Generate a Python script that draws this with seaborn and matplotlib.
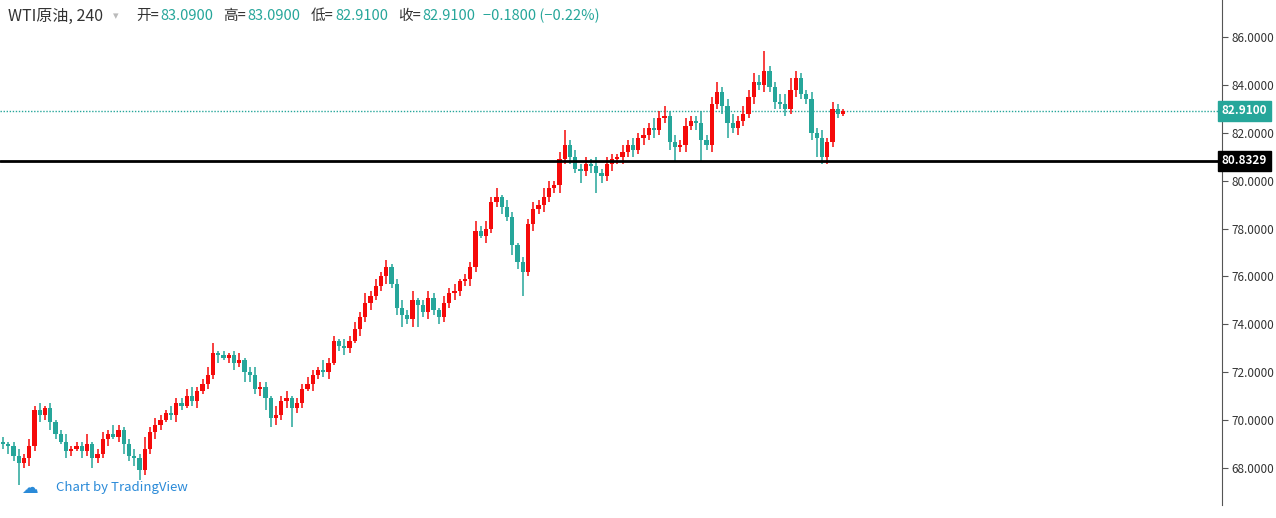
import numpy as np
import matplotlib
matplotlib.use("Agg")
import matplotlib.pyplot as plt
import seaborn as sns

closes = [69.0,68.9,68.5,68.2,68.4,68.9,70.4,70.2,70.5,69.9,
          69.4,69.1,68.7,68.8,68.9,68.7,69.0,68.4,68.6,69.2,
          69.4,69.3,69.6,69.0,68.5,68.4,67.9,68.8,69.5,69.8,
          70.0,70.3,70.2,70.7,70.6,71.0,70.8,71.2,71.5,71.9,
          72.8,72.7,72.6,72.7,72.4,72.5,72.0,71.9,71.3,71.4,
          70.9,70.1,70.2,70.8,70.9,70.5,70.7,71.3,71.5,71.9,
          72.1,72.0,72.4,73.3,73.1,73.0,73.3,73.8,74.3,74.9,
          75.2,75.6,76.0,76.4,75.7,74.7,74.4,74.2,75.0,74.8,
          74.5,75.1,74.6,74.3,74.9,75.3,75.4,75.8,75.9,76.4,
          77.9,77.7,78.0,79.1,79.3,78.9,78.5,77.3,76.6,76.2,
          78.2,78.8,79.0,79.3,79.7,79.8,80.9,81.5,81.0,80.5,
          80.4,80.7,80.6,80.3,80.2,80.7,80.9,81.0,81.2,81.5,
          81.3,81.8,81.9,82.2,82.1,82.6,82.7,81.6,81.4,81.5,
          82.3,82.5,82.4,81.7,81.5,83.2,83.7,83.1,82.4,82.2,
          82.5,82.8,83.5,84.1,84.0,84.6,83.9,83.3,83.2,83.0,
          83.8,84.3,83.6,83.4,82.0,81.8,81.0,81.6,83.0,82.8,82.91]
first_open = 69.1
wick_up = [0.2,0.1,0.2,0.3,0.2,0.3,0.2,0.3,0.1,0.2,
           0.1,0.2,0.3,0.1,0.2,0.2,0.4,0.1,0.2,0.3,
           0.2,0.4,0.2,0.1,0.2,0.3,0.2,0.5,0.2,0.3,
           0.2,0.1,0.3,0.2,0.2,0.3,0.4,0.2,0.2,0.3,
           0.4,0.1,0.2,0.1,0.2,0.3,0.1,0.2,0.3,0.2,
           0.2,0.1,0.4,0.2,0.3,0.1,0.2,0.2,0.3,0.2,
           0.1,0.4,0.2,0.2,0.1,0.3,0.2,0.3,0.2,0.4,
           0.2,0.3,0.2,0.3,0.1,0.2,0.3,0.2,0.4,0.1,
           0.2,0.3,0.2,0.1,0.3,0.2,0.3,0.1,0.2,0.2,
           0.4,0.2,0.3,0.2,0.4,0.1,0.3,0.2,0.1,0.2,
           0.2,0.3,0.2,0.4,0.3,0.2,0.3,0.6,0.2,0.3,
           0.2,0.3,0.2,0.4,0.2,0.3,0.2,0.1,0.3,0.2,
           0.3,0.2,0.3,0.2,0.4,0.3,0.4,0.2,0.3,0.2,
           0.3,0.2,0.2,0.5,0.2,0.3,0.4,0.2,0.3,0.4,
           0.2,0.3,0.3,0.4,0.3,0.8,0.2,0.2,0.3,0.4,
           0.5,0.3,0.2,0.2,0.3,0.2,0.3,0.2,0.3,0.2,0.1]
wick_dn = [0.2,0.3,0.2,0.9,0.2,0.3,0.2,0.3,0.2,0.3,
           0.2,0.1,0.3,0.2,0.1,0.3,0.2,0.4,0.2,0.2,
           0.3,0.1,0.2,0.4,0.2,0.3,0.4,0.2,0.2,0.3,
           0.2,0.1,0.2,0.3,0.2,0.1,0.2,0.3,0.1,0.2,
           0.2,0.3,0.1,0.2,0.3,0.2,0.4,0.3,0.2,0.3,
           0.5,0.4,0.3,0.2,0.3,0.8,0.2,0.2,0.1,0.3,
           0.2,0.2,0.3,0.1,0.2,0.3,0.2,0.1,0.3,0.2,
           0.3,0.2,0.2,0.3,0.2,0.3,0.5,0.2,0.3,0.9,
           0.2,0.3,0.2,0.3,0.2,0.2,0.3,0.2,0.2,0.3,
           0.2,0.1,0.3,0.2,0.2,0.3,0.2,0.4,0.3,1.0,
           0.2,0.3,0.2,0.3,0.2,0.2,0.3,0.2,0.3,0.2,
           0.5,0.2,0.3,0.8,0.3,0.2,0.3,0.2,0.3,0.2,
           0.3,0.2,0.3,0.2,0.3,0.2,0.2,0.3,0.6,0.2,
           0.3,0.2,0.3,0.9,0.2,0.3,0.2,0.3,0.6,0.2,
           0.3,0.2,0.2,0.3,0.2,0.3,0.2,0.3,0.2,0.3,
           0.2,0.3,0.2,0.2,0.3,0.8,0.3,0.3,0.2,0.2,0.1]
y_ticks = [68, 70, 72, 74, 76, 78, 80, 82, 84, 86]
last_price = 82.91
hline_price = 80.8329

UP = "#f50a0a"
DN = "#26a69a"

sns.set_style("white")
plt.rcParams['font.family'] = ['Noto Sans CJK SC', 'DejaVu Sans']

closes_a = np.array(closes)
opens = np.concatenate([[first_open], closes_a[:-1]])
highs = np.maximum(opens, closes_a) + np.array(wick_up)
lows = np.minimum(opens, closes_a) - np.array(wick_dn)
idx = np.arange(len(closes_a))
colors = [UP if c >= o else DN for o, c in zip(opens, closes_a)]

W, H = 1276, 518
fig = plt.figure(figsize=(W/100, H/100), dpi=100)
ax = fig.add_axes([0, 13/H, 1222/W, 505/H])
pitch = 5.25
ax.set_xlim(-3/pitch, (1222-3)/pitch)
ax.set_ylim(86 - 468/23.94, 86 + 37/23.94)

ax.vlines(idx, lows, highs, colors=colors, lw=1.1, zorder=3)
body_h = np.abs(closes_a - opens)
body_h = np.maximum(body_h, 0.05)
ax.bar(idx, body_h, bottom=np.minimum(opens, closes_a), width=0.85,
       color=colors, linewidth=0, zorder=4)

ax.axhline(hline_price, color="black", lw=2, zorder=5)
ax.axhline(last_price, color=DN, lw=1.0, ls=(0, (1, 1.2)), zorder=2)

ax.set_xticks([])
ax.set_yticks(y_ticks)
ax.yaxis.tick_right()
ax.set_yticklabels([f"{v:.4f}" for v in y_ticks], fontsize=8.5, color="#333333")
ax.tick_params(axis='y', length=4, color="#555555", direction='out', pad=3)
for s in ["top", "left", "bottom"]:
    ax.spines[s].set_visible(False)
ax.spines["right"].set_color("#555555")

ax.text(1.0, last_price, f"{last_price:.4f}", transform=ax.get_yaxis_transform(),
        ha="left", va="center", fontsize=8.5, color="white", fontweight="bold",
        bbox=dict(boxstyle="square,pad=0.3", fc=DN, ec=DN), zorder=10, clip_on=False)
ax.text(1.0, hline_price, f"{hline_price:.4f}", transform=ax.get_yaxis_transform(),
        ha="left", va="center", fontsize=8.5, color="white", fontweight="bold",
        bbox=dict(boxstyle="square,pad=0.3", fc="black", ec="black"), zorder=10, clip_on=False)

yh = 1 - 16/H
fig.text(8/W, yh, "WTI原油, 240", fontsize=11.5, color="#333333", va="center")
fig.text(113/W, yh, "▾", fontsize=8, color="#bbbbbb", va="center", family=['DejaVu Sans'])
items = [("开=", "83.0900", 136), ("高=", "83.0900", 223), ("低=", "82.9100", 311), ("收=", "82.9100", 398)]
for lab, val, x in items:
    fig.text(x/W, yh, lab, fontsize=10.5, color="#333333", va="center")
    fig.text((x+24)/W, yh, val, fontsize=10.5, color=DN, va="center")
fig.text(483/W, yh, "−0.1800 (−0.22%)", fontsize=10.5, color=DN, va="center")

fig.text(56/W, 1 - 488/H, "Chart by TradingView", fontsize=9.5, color="#2a8ad8", va="center")
fig.text(29/W, 1 - 488/H, "☁", fontsize=12, color="#2a8ad8", va="center", ha="center",
         family=['DejaVu Sans'])

fig.savefig("out.png", dpi=100)
